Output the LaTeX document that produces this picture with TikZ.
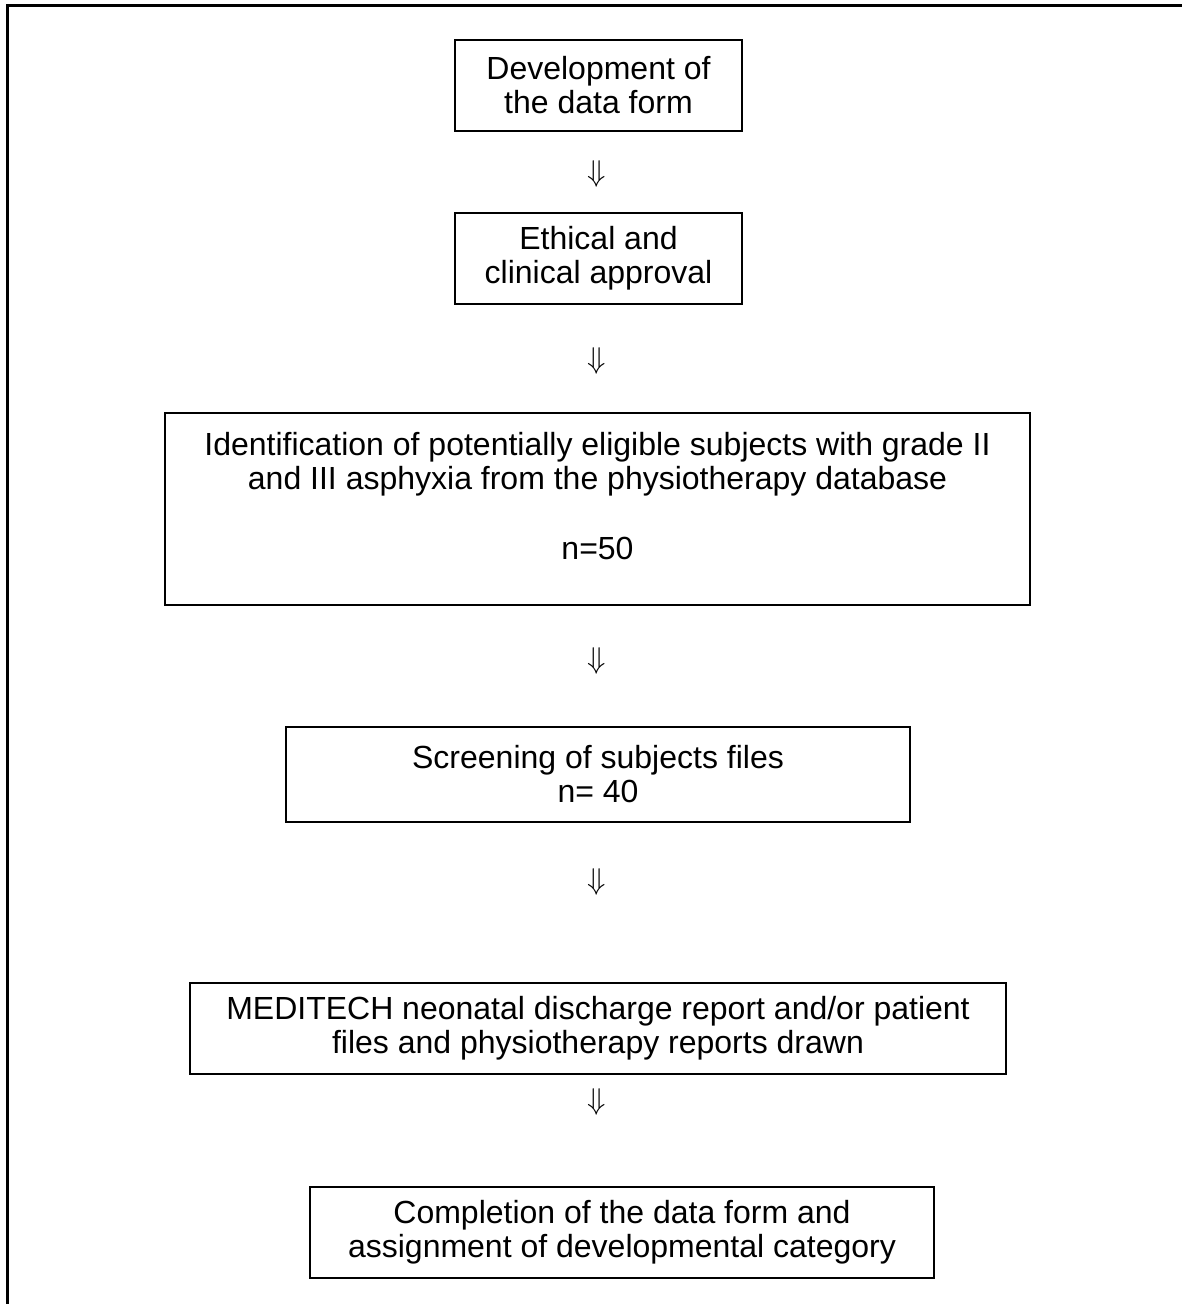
\documentclass[tikz,border=0pt]{standalone}
\usepackage{fontspec}
\setmainfont{Liberation Sans}
\begin{document}
\begin{tikzpicture}[x=1pt,y=-1pt,
  flowbox/.style={draw,line width=2pt,inner sep=0pt,align=center,
    font=\fontsize{32}{34}\selectfont},
  downarrow/.style={inner sep=0pt}]
\newcommand{\dnarrowglyph}{\scalebox{1.45}{\fontsize{20}{20}\selectfont$\Downarrow$}}
\useasboundingbox (0,0) rectangle (1182,1304);
\draw[line width=3pt] (7,1304) -- (7,5) -- (1182,5);
\node[flowbox,minimum width=287pt,minimum height=91pt] (b1) at (598.5,85.5) {Development of\\the data form};
\node[downarrow] (a1) at (597,174) {\dnarrowglyph};
\node[flowbox,minimum width=287pt,minimum height=91pt] (b2) at (598.5,258.5) {Ethical and\\clinical approval};
\node[downarrow] (a2) at (597,361) {\dnarrowglyph};
\node[flowbox,minimum width=865pt,minimum height=192pt] (b3) at (597.5,509) {Identification of potentially eligible subjects with grade II\\and III asphyxia from the physiotherapy database\\[36pt]n=50\\[-8pt]\mbox{}};
\node[downarrow] (a3) at (597,661) {\dnarrowglyph};
\node[flowbox,minimum width=624pt,minimum height=95pt] (b4) at (598,774.5) {Screening of subjects files\\n= 40};
\node[downarrow] (a4) at (597,882) {\dnarrowglyph};
\node[flowbox,minimum width=816pt,minimum height=91pt] (b5) at (598,1028.5) {MEDITECH neonatal discharge report and/or patient\\files and physiotherapy reports drawn};
\node[downarrow] (a5) at (597,1102) {\dnarrowglyph};
\node[flowbox,minimum width=624pt,minimum height=91pt] (b6) at (622,1232.5) {Completion of the data form and\\assignment of developmental category};
\end{tikzpicture}
\end{document}
